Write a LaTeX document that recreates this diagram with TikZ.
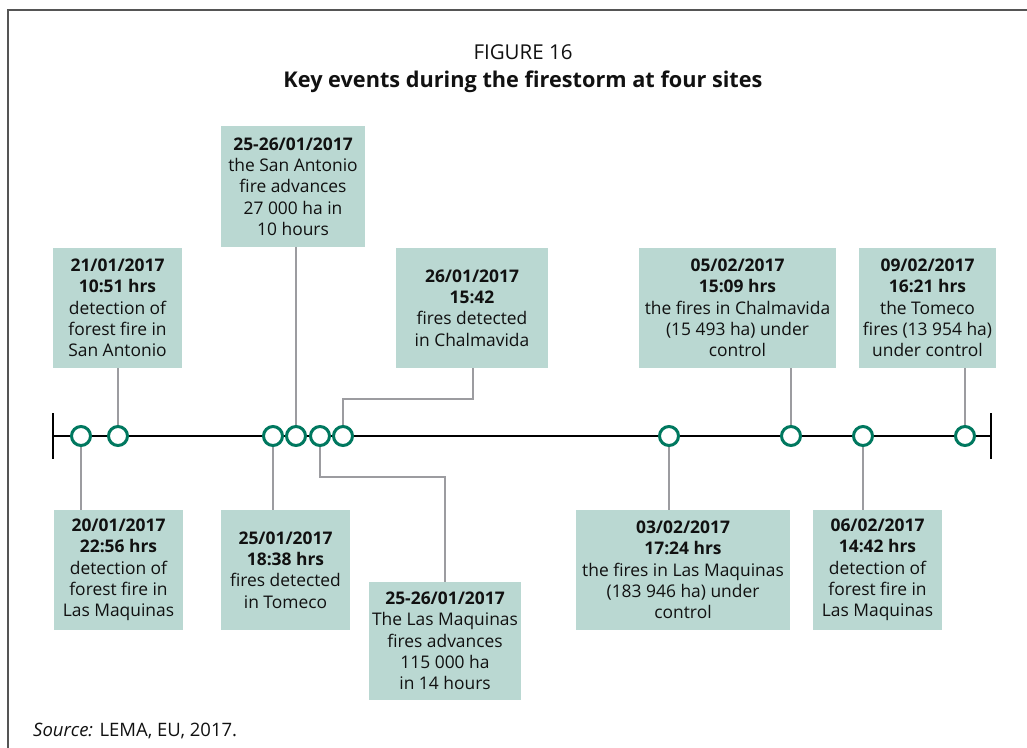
\documentclass[tikz,border=0pt]{standalone}
\usepackage{fontspec}
\setmainfont{Open Sans}
\definecolor{boxfill}{HTML}{BAD8D2}
\definecolor{ring}{HTML}{00785F}
\definecolor{conn}{HTML}{9C9CA0}
\definecolor{framec}{HTML}{555555}
\definecolor{ink}{HTML}{111111}
\begin{document}
\begin{tikzpicture}[x=1pt,y=-1pt,
  evt/.style={fill=boxfill, inner sep=0pt, align=center, text=ink,
    font=\fontsize{17.4}{21.3}\selectfont},
  ring/.style={circle, draw=ring, line width=3pt, fill=white, minimum size=19pt, inner sep=0pt},
  conn/.style={draw=conn, line width=2.6pt},
  axis/.style={draw=black, line width=2.8pt},
  framel/.style={draw=framec, line width=2pt}]
\useasboundingbox (0,0) rectangle (1027,747);
% frame
\draw[framel] (8,760) -- (8,10) -- (1040,10);
% titles
\node[font=\fontsize{20.5}{24}\selectfont, text=ink] (fig) at (523,52) {FIGURE 16};
\node[font=\fontsize{21.7}{26}\selectfont\bfseries, text=ink] (title) at (523,82) {Key events during the firestorm at four sites};
% boxes
\node[evt, minimum width=129pt, minimum height=120pt] (b1) at (117.5,308) {\textbf{21/01/2017}\\\textbf{10:51 hrs}\\detection of\\forest fire in\\San Antonio};
\node[evt, minimum width=144pt, minimum height=121pt] (b2) at (293,186.5) {\textbf{25-26/01/2017}\\the San Antonio\\fire advances\\27 000 ha in\\10 hours};
\node[evt, minimum width=152pt, minimum height=120pt] (b3) at (472,308) {\textbf{26/01/2017}\\\textbf{15:42}\\fires detected\\in Chalmavida};
\node[evt, minimum width=197pt, minimum height=120pt] (b4) at (737.5,308) {\textbf{05/02/2017}\\\textbf{15:09 hrs}\\the fires in Chalmavida\\(15 493 ha) under\\control};
\node[evt, minimum width=137pt, minimum height=120pt] (b5) at (927.5,308) {\textbf{09/02/2017}\\\textbf{16:21 hrs}\\the Tomeco\\fires (13 954 ha)\\under control};
\node[evt, minimum width=129pt, minimum height=120pt] (b6) at (118.5,570) {\textbf{20/01/2017}\\\textbf{22:56 hrs}\\detection of\\forest fire in\\Las Maquinas};
\node[evt, minimum width=129pt, minimum height=120pt] (b7) at (285.5,570) {\textbf{25/01/2017}\\\textbf{18:38 hrs}\\fires detected\\in Tomeco};
\node[evt, minimum width=152pt, minimum height=118pt] (b8) at (445,641) {\textbf{25-26/01/2017}\\The Las Maquinas\\fires advances\\115 000 ha\\in 14 hours};
\node[evt, minimum width=214pt, minimum height=120pt] (b9) at (683,570) {\textbf{03/02/2017}\\\textbf{17:24 hrs}\\the fires in Las Maquinas\\(183 946 ha) under\\control};
\node[evt, minimum width=129pt, minimum height=120pt] (b10) at (877.5,570) {\textbf{06/02/2017}\\\textbf{14:42 hrs}\\detection of\\forest fire in\\Las Maquinas};
% timeline
\coordinate (tl) at (53,436);
\coordinate (tr) at (991,436);
\coordinate (tlt) at (53,413);
\coordinate (tlb) at (53,459);
\coordinate (trt) at (991,413);
\coordinate (trb) at (991,459);
\draw[axis] (tl) -- (tr);
\draw[axis] (tlt) -- (tlb);
\draw[axis] (trt) -- (trb);
% circle positions
\coordinate (p1) at (81,436);
\coordinate (p2) at (118,436);
\coordinate (p3) at (273,436);
\coordinate (p4) at (296,436);
\coordinate (p5) at (320,436);
\coordinate (p6) at (343,436);
\coordinate (p7) at (669,436);
\coordinate (p8) at (791,436);
\coordinate (p9) at (863,436);
\coordinate (p10) at (965,436);
\coordinate (k5) at (445,477);
\coordinate (k6) at (473,399);
% connectors
\draw[conn] (p1) -- (p1 |- b6.north);
\draw[conn] (p2) -- (p2 |- b1.south);
\draw[conn] (p3) -- (p3 |- b7.north);
\draw[conn] (p4) -- (p4 |- b2.south);
\draw[conn] (p5) |- (k5) -- (k5 |- b8.north);
\draw[conn] (p6) |- (k6) -- (k6 |- b3.south);
\draw[conn] (p7) -- (p7 |- b9.north);
\draw[conn] (p8) -- (p8 |- b4.south);
\draw[conn] (p9) -- (p9 |- b10.north);
\draw[conn] (p10) -- (p10 |- b5.south);
% rings
\foreach \i in {1,...,10} \node[ring] (c\i) at (p\i) {};
% source
\node[anchor=base west, font=\fontsize{18.5}{22}\selectfont, text=ink, inner sep=0pt] (src) at (33,736) {\textit{Source:} LEMA, EU, 2017.};
\end{tikzpicture}
\end{document}
